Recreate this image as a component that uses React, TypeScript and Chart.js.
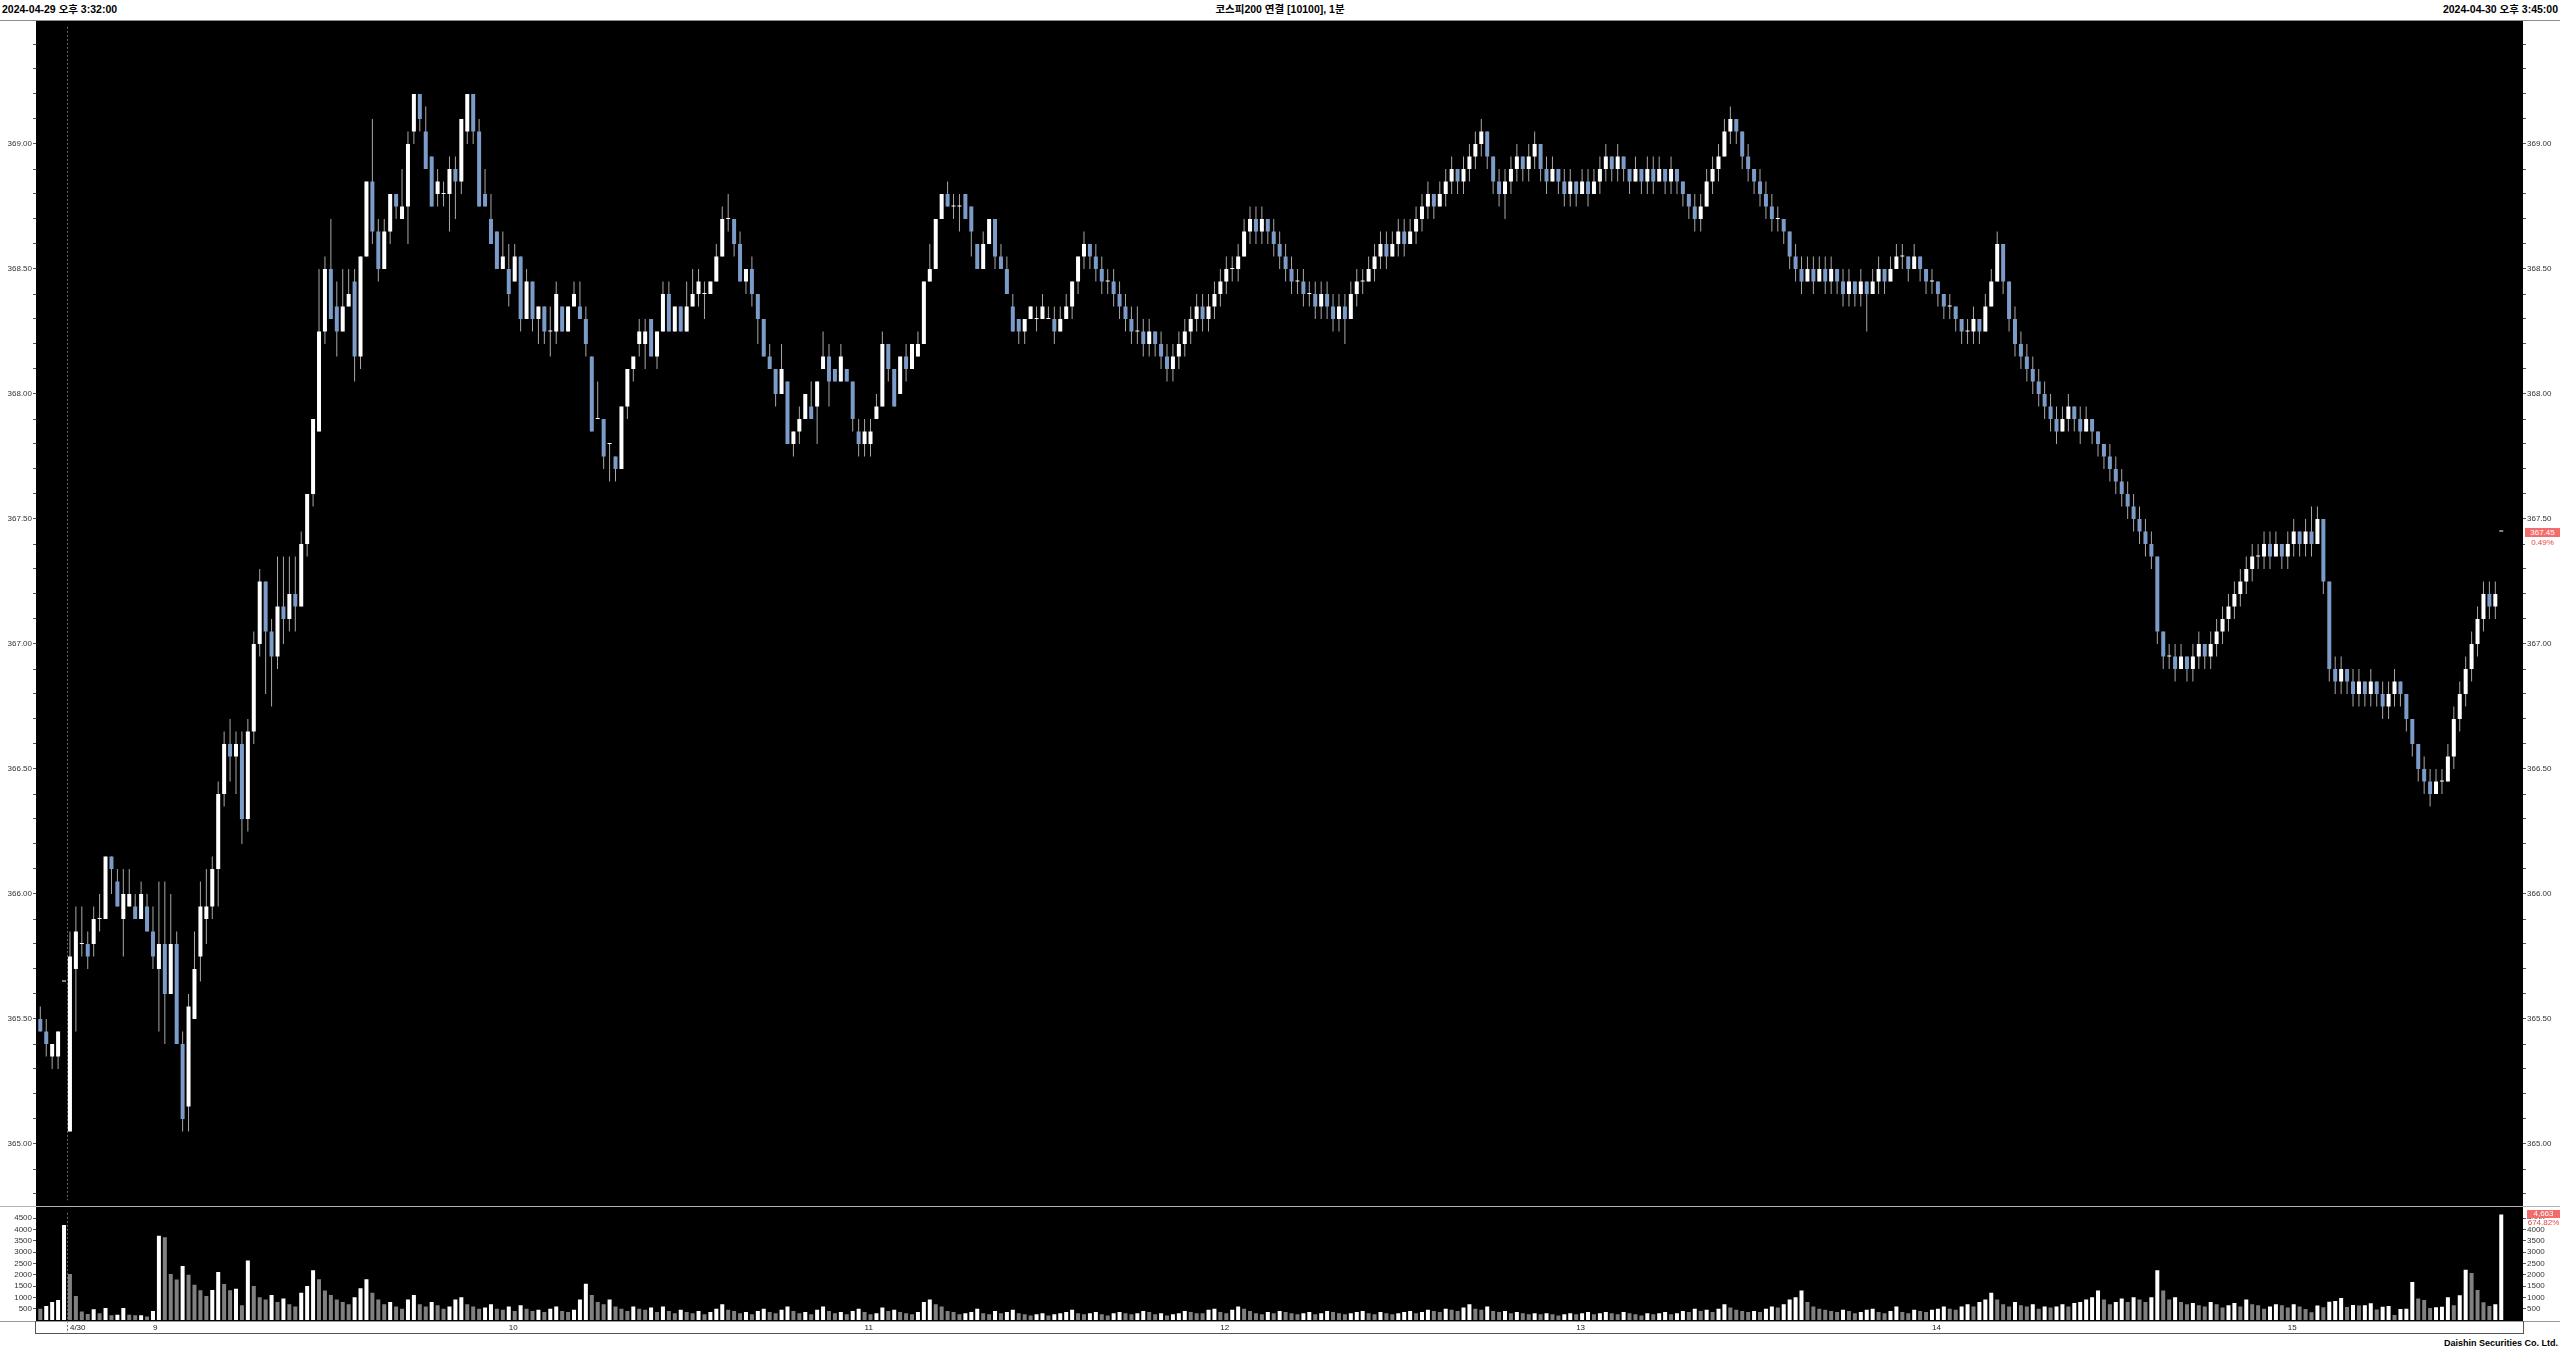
import React, { useEffect, useRef } from 'react';
import { Chart, registerables } from 'chart.js';
Chart.register(...registerables);

// ---------- DATA (1-minute bars, 4/29 15:32 … 4/30 15:45) ----------
const opens: number[] = [
  365.50, 365.45, 365.35, 365.35, 365.65, 365.05, 365.70, 365.80, 365.80, 365.80,
  365.90, 365.90, 366.15, 366.05, 365.90, 365.95, 365.95, 365.90, 365.95, 365.85,
  365.70, 365.80, 365.60, 365.80, 365.40, 365.15, 365.50, 365.75, 365.90, 365.95,
  366.10, 366.40, 366.60, 366.55, 366.60, 366.30, 366.65, 367.00, 367.25, 367.05,
  366.95, 367.15, 367.10, 367.20, 367.15, 367.40, 367.60, 367.85, 368.25, 368.50,
  368.35, 368.25, 368.35, 368.45, 368.15, 368.55, 368.85, 368.65, 368.50, 368.65,
  368.80, 368.70, 368.75, 369.05, 369.20, 369.05, 368.95, 368.80, 368.80, 368.80,
  368.90, 368.85, 369.05, 369.20, 369.05, 368.80, 368.70, 368.65, 368.50, 368.50,
  368.45, 368.55, 368.30, 368.45, 368.30, 368.35, 368.25, 368.25, 368.35, 368.25,
  368.35, 368.35, 368.30, 368.15, 367.90, 367.90, 367.80, 367.75, 367.70, 367.95,
  368.10, 368.20, 368.20, 368.30, 368.15, 368.25, 368.40, 368.25, 368.35, 368.25,
  368.35, 368.40, 368.40, 368.40, 368.45, 368.55, 368.70, 368.70, 368.60, 368.45,
  368.50, 368.40, 368.30, 368.15, 368.10, 368.00, 368.05, 367.80, 367.85, 367.90,
  367.95, 367.95, 368.10, 368.15, 368.10, 368.05, 368.10, 368.05, 367.85, 367.80,
  367.80, 367.90, 367.95, 368.20, 368.10, 368.00, 368.15, 368.10, 368.15, 368.20,
  368.45, 368.50, 368.70, 368.80, 368.75, 368.75, 368.80, 368.75, 368.60, 368.50,
  368.60, 368.70, 368.55, 368.50, 368.35, 368.30, 368.25, 368.30, 368.30, 368.30,
  368.30, 368.30, 368.25, 368.30, 368.35, 368.45, 368.55, 368.60, 368.55, 368.50,
  368.45, 368.45, 368.40, 368.35, 368.30, 368.25, 368.25, 368.20, 368.25, 368.20,
  368.15, 368.10, 368.15, 368.20, 368.25, 368.30, 368.35, 368.30, 368.35, 368.40,
  368.45, 368.50, 368.50, 368.55, 368.65, 368.70, 368.65, 368.70, 368.65, 368.60,
  368.55, 368.50, 368.45, 368.45, 368.40, 368.40, 368.35, 368.40, 368.35, 368.30,
  368.35, 368.30, 368.40, 368.45, 368.45, 368.50, 368.55, 368.60, 368.55, 368.60,
  368.65, 368.60, 368.65, 368.70, 368.75, 368.80, 368.75, 368.80, 368.85, 368.90,
  368.85, 368.90, 368.95, 369.00, 369.05, 368.95, 368.85, 368.80, 368.85, 368.90,
  368.95, 368.90, 368.95, 369.00, 368.90, 368.85, 368.90, 368.85, 368.80, 368.85,
  368.80, 368.85, 368.80, 368.85, 368.90, 368.95, 368.90, 368.95, 368.90, 368.85,
  368.90, 368.85, 368.90, 368.85, 368.90, 368.85, 368.90, 368.85, 368.80, 368.75,
  368.70, 368.75, 368.85, 368.90, 368.95, 369.05, 369.10, 369.05, 368.95, 368.90,
  368.85, 368.80, 368.75, 368.70, 368.70, 368.65, 368.55, 368.50, 368.45, 368.50,
  368.45, 368.50, 368.45, 368.50, 368.45, 368.40, 368.45, 368.40, 368.45, 368.40,
  368.45, 368.50, 368.45, 368.50, 368.55, 368.55, 368.50, 368.55, 368.50, 368.45,
  368.45, 368.40, 368.35, 368.35, 368.30, 368.25, 368.25, 368.30, 368.25, 368.35,
  368.45, 368.60, 368.45, 368.30, 368.20, 368.15, 368.10, 368.05, 368.00, 367.95,
  367.90, 367.85, 367.90, 367.95, 367.90, 367.85, 367.90, 367.85, 367.80, 367.75,
  367.70, 367.65, 367.60, 367.55, 367.50, 367.45, 367.40, 367.35, 367.05, 366.95,
  366.95, 366.90, 366.95, 366.90, 366.95, 367.00, 366.95, 367.00, 367.05, 367.10,
  367.15, 367.20, 367.25, 367.30, 367.35, 367.35, 367.40, 367.35, 367.40, 367.35,
  367.40, 367.45, 367.40, 367.45, 367.40, 367.50, 367.25, 366.90, 366.85, 366.90,
  366.85, 366.80, 366.85, 366.80, 366.85, 366.80, 366.75, 366.80, 366.85, 366.80,
  366.70, 366.60, 366.50, 366.45, 366.40, 366.45, 366.45, 366.55, 366.70, 366.80,
  366.90, 367.00, 367.10, 367.20, 367.15, 367.45,
];
const highs: number[] = [
  365.55, 365.50, 365.40, 365.45, 365.65, 365.85, 365.95, 365.95, 365.85, 365.95,
  366.00, 366.15, 366.15, 366.10, 366.10, 366.10, 366.00, 366.05, 366.00, 365.95,
  366.05, 366.05, 366.00, 365.85, 365.45, 365.60, 365.85, 366.05, 366.10, 366.15,
  366.45, 366.65, 366.70, 366.65, 366.65, 366.70, 367.05, 367.30, 367.25, 367.10,
  367.35, 367.35, 367.35, 367.35, 367.45, 367.60, 367.90, 368.50, 368.55, 368.70,
  368.45, 368.50, 368.50, 368.50, 368.55, 368.85, 369.10, 368.70, 368.70, 368.80,
  368.80, 368.90, 369.05, 369.20, 369.20, 369.15, 368.95, 368.90, 368.85, 368.95,
  368.95, 369.10, 369.20, 369.20, 369.10, 368.90, 368.80, 368.65, 368.65, 368.60,
  368.60, 368.55, 368.50, 368.45, 368.35, 368.35, 368.35, 368.45, 368.35, 368.35,
  368.45, 368.45, 368.35, 368.15, 368.05, 367.90, 367.80, 367.75, 367.95, 368.10,
  368.15, 368.30, 368.30, 368.30, 368.25, 368.45, 368.45, 368.35, 368.35, 368.45,
  368.50, 368.50, 368.45, 368.45, 368.60, 368.75, 368.80, 368.70, 368.65, 368.50,
  368.55, 368.40, 368.30, 368.20, 368.10, 368.20, 368.05, 367.85, 367.95, 368.00,
  368.05, 368.05, 368.25, 368.20, 368.10, 368.20, 368.10, 368.05, 367.90, 367.90,
  367.90, 368.00, 368.25, 368.20, 368.10, 368.15, 368.20, 368.20, 368.25, 368.45,
  368.60, 368.70, 368.80, 368.85, 368.80, 368.80, 368.80, 368.75, 368.60, 368.65,
  368.70, 368.70, 368.60, 368.55, 368.40, 368.30, 368.30, 368.35, 368.35, 368.40,
  368.35, 368.35, 368.35, 368.40, 368.45, 368.55, 368.65, 368.60, 368.60, 368.55,
  368.50, 368.50, 368.45, 368.40, 368.35, 368.35, 368.30, 368.30, 368.25, 368.25,
  368.20, 368.20, 368.25, 368.30, 368.35, 368.40, 368.40, 368.40, 368.45, 368.50,
  368.55, 368.55, 368.60, 368.70, 368.75, 368.75, 368.75, 368.70, 368.70, 368.65,
  368.60, 368.55, 368.50, 368.50, 368.45, 368.45, 368.45, 368.45, 368.40, 368.40,
  368.40, 368.45, 368.50, 368.50, 368.55, 368.60, 368.65, 368.65, 368.65, 368.70,
  368.70, 368.70, 368.75, 368.80, 368.85, 368.80, 368.85, 368.90, 368.95, 368.90,
  368.95, 369.00, 369.05, 369.10, 369.05, 368.95, 368.90, 368.90, 368.95, 369.00,
  368.95, 369.00, 369.05, 369.00, 368.95, 368.95, 368.90, 368.90, 368.90, 368.85,
  368.90, 368.90, 368.90, 368.95, 369.00, 368.95, 369.00, 368.95, 368.90, 368.95,
  368.90, 368.95, 368.95, 368.95, 368.90, 368.95, 368.90, 368.85, 368.80, 368.80,
  368.80, 368.90, 368.95, 369.00, 369.10, 369.15, 369.10, 369.05, 369.00, 368.90,
  368.90, 368.85, 368.80, 368.75, 368.70, 368.65, 368.60, 368.55, 368.55, 368.55,
  368.55, 368.55, 368.55, 368.50, 368.50, 368.50, 368.45, 368.50, 368.45, 368.50,
  368.55, 368.50, 368.55, 368.60, 368.60, 368.55, 368.60, 368.55, 368.50, 368.50,
  368.45, 368.40, 368.40, 368.35, 368.30, 368.30, 368.35, 368.30, 368.40, 368.50,
  368.65, 368.60, 368.45, 368.35, 368.25, 368.20, 368.15, 368.10, 368.05, 368.00,
  367.95, 367.95, 368.00, 367.95, 367.95, 367.95, 367.90, 367.85, 367.80, 367.80,
  367.75, 367.70, 367.65, 367.60, 367.55, 367.50, 367.45, 367.35, 367.05, 367.00,
  367.00, 367.00, 366.95, 367.00, 367.05, 367.00, 367.05, 367.10, 367.15, 367.20,
  367.25, 367.30, 367.35, 367.40, 367.40, 367.45, 367.45, 367.45, 367.40, 367.45,
  367.50, 367.45, 367.50, 367.55, 367.55, 367.50, 367.25, 366.95, 366.95, 366.90,
  366.90, 366.90, 366.85, 366.90, 366.85, 366.85, 366.85, 366.90, 366.85, 366.80,
  366.70, 366.60, 366.55, 366.50, 366.50, 366.50, 366.60, 366.75, 366.85, 366.95,
  367.05, 367.15, 367.25, 367.25, 367.25, 367.45,
];
const lows: number[] = [
  365.45, 365.35, 365.30, 365.30, 365.65, 365.05, 365.45, 365.75, 365.70, 365.75,
  365.85, 365.90, 366.00, 365.95, 365.75, 365.95, 365.90, 365.90, 365.85, 365.70,
  365.45, 365.40, 365.60, 365.40, 365.05, 365.05, 365.50, 365.65, 365.80, 365.90,
  365.95, 366.35, 366.45, 366.40, 366.20, 366.25, 366.60, 366.95, 366.80, 366.75,
  366.90, 367.00, 367.05, 367.05, 367.15, 367.35, 367.55, 367.85, 368.20, 368.30,
  368.15, 368.25, 368.35, 368.05, 368.10, 368.55, 368.60, 368.45, 368.50, 368.60,
  368.70, 368.70, 368.60, 369.00, 369.05, 368.90, 368.75, 368.75, 368.75, 368.65,
  368.70, 368.80, 369.00, 369.00, 368.75, 368.75, 368.60, 368.50, 368.50, 368.35,
  368.45, 368.25, 368.30, 368.25, 368.20, 368.20, 368.15, 368.20, 368.25, 368.25,
  368.35, 368.30, 368.15, 367.85, 367.90, 367.70, 367.65, 367.65, 367.70, 367.90,
  368.05, 368.15, 368.10, 368.15, 368.10, 368.25, 368.25, 368.25, 368.25, 368.25,
  368.35, 368.35, 368.30, 368.40, 368.45, 368.55, 368.65, 368.55, 368.45, 368.40,
  368.35, 368.20, 368.15, 368.10, 367.95, 368.00, 367.80, 367.75, 367.80, 367.90,
  367.90, 367.80, 368.10, 367.95, 368.05, 368.05, 368.05, 367.85, 367.75, 367.75,
  367.75, 367.90, 367.95, 368.05, 367.95, 368.00, 368.05, 368.10, 368.15, 368.20,
  368.45, 368.50, 368.70, 368.75, 368.70, 368.65, 368.70, 368.55, 368.50, 368.50,
  368.60, 368.50, 368.50, 368.40, 368.25, 368.20, 368.20, 368.30, 368.25, 368.30,
  368.30, 368.20, 368.25, 368.30, 368.30, 368.40, 368.50, 368.50, 368.45, 368.40,
  368.40, 368.35, 368.30, 368.25, 368.20, 368.20, 368.15, 368.15, 368.15, 368.10,
  368.05, 368.05, 368.10, 368.15, 368.20, 368.25, 368.25, 368.25, 368.30, 368.35,
  368.40, 368.45, 368.45, 368.55, 368.60, 368.60, 368.60, 368.60, 368.55, 368.50,
  368.45, 368.40, 368.40, 368.35, 368.35, 368.30, 368.30, 368.30, 368.25, 368.25,
  368.20, 368.30, 368.35, 368.40, 368.45, 368.45, 368.50, 368.50, 368.55, 368.55,
  368.55, 368.60, 368.60, 368.65, 368.70, 368.70, 368.75, 368.75, 368.80, 368.80,
  368.80, 368.85, 368.90, 368.95, 368.90, 368.80, 368.75, 368.70, 368.80, 368.85,
  368.85, 368.85, 368.90, 368.85, 368.80, 368.85, 368.80, 368.75, 368.75, 368.75,
  368.80, 368.75, 368.80, 368.80, 368.85, 368.85, 368.85, 368.85, 368.80, 368.85,
  368.80, 368.80, 368.80, 368.85, 368.80, 368.80, 368.80, 368.75, 368.70, 368.65,
  368.65, 368.75, 368.80, 368.85, 368.95, 369.00, 369.00, 368.90, 368.85, 368.80,
  368.75, 368.70, 368.65, 368.65, 368.60, 368.50, 368.45, 368.40, 368.45, 368.40,
  368.45, 368.40, 368.40, 368.40, 368.35, 368.35, 368.35, 368.35, 368.25, 368.40,
  368.40, 368.40, 368.45, 368.50, 368.50, 368.45, 368.50, 368.45, 368.40, 368.40,
  368.35, 368.30, 368.30, 368.25, 368.20, 368.20, 368.20, 368.20, 368.25, 368.35,
  368.45, 368.40, 368.25, 368.15, 368.10, 368.05, 368.00, 367.95, 367.90, 367.85,
  367.80, 367.85, 367.85, 367.85, 367.80, 367.85, 367.80, 367.75, 367.70, 367.65,
  367.60, 367.55, 367.50, 367.45, 367.40, 367.35, 367.30, 367.00, 366.90, 366.90,
  366.85, 366.90, 366.85, 366.85, 366.90, 366.90, 366.90, 366.95, 367.00, 367.05,
  367.10, 367.15, 367.20, 367.25, 367.30, 367.30, 367.30, 367.35, 367.30, 367.30,
  367.35, 367.35, 367.35, 367.35, 367.40, 367.20, 366.85, 366.80, 366.80, 366.80,
  366.75, 366.75, 366.75, 366.75, 366.75, 366.70, 366.70, 366.75, 366.75, 366.65,
  366.55, 366.45, 366.40, 366.35, 366.40, 366.40, 366.45, 366.50, 366.65, 366.75,
  366.85, 366.95, 367.05, 367.10, 367.10, 367.45,
];
const closes: number[] = [
  365.45, 365.40, 365.40, 365.45, 365.65, 365.75, 365.85, 365.80, 365.75, 365.90,
  365.90, 366.15, 366.10, 365.95, 366.00, 366.00, 365.90, 366.00, 365.85, 365.75,
  365.80, 365.60, 365.80, 365.40, 365.10, 365.55, 365.70, 365.95, 365.95, 366.10,
  366.40, 366.60, 366.55, 366.60, 366.30, 366.65, 367.00, 367.25, 367.05, 366.95,
  367.15, 367.10, 367.20, 367.15, 367.40, 367.60, 367.90, 368.25, 368.50, 368.30,
  368.25, 368.35, 368.40, 368.15, 368.55, 368.85, 368.65, 368.50, 368.65, 368.80,
  368.75, 368.75, 369.00, 369.20, 369.10, 368.90, 368.75, 368.85, 368.80, 368.90,
  368.85, 369.10, 369.20, 369.05, 368.75, 368.75, 368.60, 368.50, 368.55, 368.40,
  368.55, 368.30, 368.45, 368.30, 368.35, 368.25, 368.25, 368.40, 368.25, 368.35,
  368.40, 368.30, 368.20, 367.85, 367.90, 367.75, 367.80, 367.70, 367.95, 368.10,
  368.15, 368.25, 368.25, 368.15, 368.25, 368.40, 368.25, 368.35, 368.25, 368.35,
  368.40, 368.45, 368.40, 368.45, 368.55, 368.70, 368.70, 368.60, 368.45, 368.50,
  368.40, 368.30, 368.15, 368.10, 368.00, 368.10, 367.80, 367.85, 367.90, 368.00,
  367.90, 368.05, 368.15, 368.05, 368.05, 368.15, 368.05, 367.90, 367.80, 367.85,
  367.85, 367.95, 368.20, 368.10, 367.95, 368.15, 368.10, 368.20, 368.20, 368.45,
  368.50, 368.70, 368.80, 368.75, 368.75, 368.75, 368.70, 368.65, 368.50, 368.60,
  368.70, 368.55, 368.50, 368.40, 368.25, 368.25, 368.30, 368.35, 368.30, 368.35,
  368.30, 368.25, 368.30, 368.35, 368.45, 368.55, 368.60, 368.55, 368.50, 368.45,
  368.45, 368.40, 368.35, 368.30, 368.25, 368.25, 368.20, 368.25, 368.20, 368.15,
  368.10, 368.15, 368.20, 368.25, 368.30, 368.35, 368.30, 368.35, 368.40, 368.45,
  368.50, 368.50, 368.55, 368.65, 368.70, 368.65, 368.70, 368.65, 368.60, 368.55,
  368.50, 368.45, 368.45, 368.40, 368.40, 368.35, 368.40, 368.35, 368.30, 368.35,
  368.30, 368.40, 368.45, 368.45, 368.50, 368.55, 368.60, 368.55, 368.60, 368.65,
  368.60, 368.65, 368.70, 368.75, 368.80, 368.75, 368.80, 368.85, 368.90, 368.85,
  368.90, 368.95, 369.00, 369.05, 368.95, 368.85, 368.80, 368.85, 368.90, 368.95,
  368.90, 368.95, 369.00, 368.90, 368.85, 368.90, 368.85, 368.80, 368.85, 368.80,
  368.85, 368.80, 368.85, 368.90, 368.95, 368.90, 368.95, 368.90, 368.85, 368.90,
  368.85, 368.90, 368.85, 368.90, 368.85, 368.90, 368.85, 368.80, 368.75, 368.70,
  368.75, 368.85, 368.90, 368.95, 369.05, 369.10, 369.05, 368.95, 368.90, 368.85,
  368.80, 368.75, 368.70, 368.70, 368.65, 368.55, 368.50, 368.45, 368.50, 368.45,
  368.50, 368.45, 368.50, 368.45, 368.40, 368.45, 368.40, 368.45, 368.40, 368.45,
  368.50, 368.45, 368.50, 368.55, 368.55, 368.50, 368.55, 368.50, 368.45, 368.45,
  368.40, 368.35, 368.35, 368.30, 368.25, 368.25, 368.30, 368.25, 368.35, 368.45,
  368.60, 368.45, 368.30, 368.20, 368.15, 368.10, 368.05, 368.00, 367.95, 367.90,
  367.85, 367.90, 367.95, 367.90, 367.85, 367.90, 367.85, 367.80, 367.75, 367.70,
  367.65, 367.60, 367.55, 367.50, 367.45, 367.40, 367.35, 367.05, 366.95, 366.95,
  366.90, 366.95, 366.90, 366.95, 367.00, 366.95, 367.00, 367.05, 367.10, 367.15,
  367.20, 367.25, 367.30, 367.35, 367.35, 367.40, 367.35, 367.40, 367.35, 367.40,
  367.45, 367.40, 367.45, 367.40, 367.50, 367.25, 366.90, 366.85, 366.90, 366.85,
  366.80, 366.85, 366.80, 366.85, 366.80, 366.75, 366.80, 366.85, 366.80, 366.70,
  366.60, 366.50, 366.45, 366.40, 366.45, 366.45, 366.55, 366.70, 366.80, 366.90,
  367.00, 367.10, 367.20, 367.15, 367.20, 367.45,
];

const volumes: number[] = [
  500, 620, 800, 880, 4190, 2030, 1060, 380, 265, 470,
  295, 530, 205, 235, 530, 235, 205, 210, 150, 400,
  3720, 3650, 2030, 1790, 2380, 2000, 1560, 1310, 1060, 1320,
  2120, 1590, 1310, 1380, 650, 2630,
  1500, 1000, 900, 1100, 800, 950, 700, 600, 1200, 1500,
  2200, 1800, 1300, 1100, 900, 800, 700, 1000, 1400, 1800,
  1200, 900, 700, 800, 600, 500, 900, 1100, 700, 600,
  800, 650, 500, 600, 900, 1000, 700, 600, 500, 550,
  700, 500, 450, 600, 400, 650, 500, 400, 450, 350,
  500, 600, 400, 350, 450, 900, 1600, 1100, 800, 700,
  900, 600, 500, 400, 600, 500, 450, 550, 350, 600,
  400, 300, 450, 350, 300, 400, 250, 350, 500, 700,
  450, 400, 300, 350, 250, 400, 500, 350, 300, 450,
  600, 400, 300, 350, 250, 450, 600, 400, 300, 350,
  250, 400, 500, 350, 250, 300, 550, 400, 450, 350,
  300, 250, 350, 800, 900, 700, 600, 400, 350, 250,
  300, 350, 500, 300, 250, 400, 300, 350, 450, 300,
  250, 200, 250, 300, 200, 250, 300, 350, 450, 300,
  250, 300, 350, 250, 200, 300, 350, 300, 250, 300,
  400, 350, 250, 300, 200, 250, 300, 400, 350, 300,
  300, 450, 500, 350, 300, 450, 600, 500, 400, 300, 250,
  350, 300, 400, 350, 300, 250, 300, 350, 250, 300,
  400, 350, 300, 250, 300, 350, 400, 300, 250, 350,
  300, 250, 300, 350, 400, 300, 350, 450, 400, 350,
  500, 450, 400, 550, 700, 500, 450, 600, 400, 350,
  400, 300, 350, 300, 250, 300, 250, 300, 250, 200,
  250, 300, 250, 300, 350, 250, 300, 350, 300, 250,
  350, 300, 250, 200, 300, 250, 300, 350, 250, 300, 400,
  350, 500, 400, 450, 350, 500, 700, 550, 450, 400,
  350, 400, 350, 500, 600, 550, 700, 900, 1000, 1300,
  800, 600, 500, 450, 400, 350, 450, 400, 300, 350,
  450, 500, 350, 300, 400, 600, 350, 300, 450, 400, 350,
  450, 500, 600, 500, 450, 600, 700, 600, 800, 900,
  1200, 900, 700, 600, 800, 650, 600, 700, 500, 600,
  550, 600, 700, 600, 750, 800, 900, 1000, 1300, 900,
  700, 800, 950, 800, 1000, 900, 800, 1000, 2200, 1300,
  900, 1000, 800, 700, 750, 650, 600, 800, 700, 550,
  650, 750, 600, 900, 700, 650, 500, 600, 700, 650,
  550, 700, 600,
  490, 340, 635, 560, 810, 840, 975, 575, 665, 635,
  650, 740, 460, 590, 620, 220, 490, 500, 1680, 945,
  885, 530, 560, 590, 1000, 650, 1090, 2215, 2080, 1330,
  780, 620, 691, 4663,
];

const xTickIndex = [5, 19, 79, 139, 199, 259, 319, 379];
const xTickLabels = ['4/30', '9', '10', '11', '12', '13', '14', '15'];
const volumeTicks = [500, 1000, 1500, 2000, 2500, 3000, 3500, 4000, 4500];
const dayBreakIndex = 5;

const titleLeft = '2024-04-29 오후 3:32:00';
const titleCenter = '코스피200 연결 [10100], 1분';
const titleRight = '2024-04-30 오후 3:45:00';
const lastPriceText = '367.45';
const lastPriceChange = '0.49%';
const lastPriceValue = 367.45;
const lastVolumeText = '4,663';
const lastVolumeChange = '674.82%';
const footerText = 'Daishin Securities Co. Ltd.';

// ---------- GEOMETRY ----------
const W = 2560;
const PLOT_L = 36;
const PLOT_R = 2523;
const PRICE_TOP = 21;
const PRICE_BOT = 1206;
const VOL_TOP = 1207;
const VOL_CANVAS_H = 127;
const VOL_BOT = 1321;
const BAR0_X = 40.3;
const PITCH = 5.93;
const REF_PRICE = 369;
const REF_PRICE_Y = 144;
const PX_PER_POINT = 250;
const VOL_ZERO_Y = 1320;
const PX_PER_1000 = 22.65;

const UP = '#ffffff';
const DOWN = '#7b9bc8';
const WICK = '#a8a8a8';
const FONT = "'Liberation Sans', 'Noto Sans CJK KR', Arial, sans-serif";

const priceTicks: number[] = [];
for (let k = 3648; k <= 3694; k++) priceTicks.push(k / 10);

const axisFont = { family: FONT, size: 8 };

const X_MIN = (PLOT_L - BAR0_X) / PITCH;
const X_MAX = (PLOT_R - BAR0_X) / PITCH;

function fixX(chart: any) {
  const ca = chart.chartArea;
  chart.options.scales.x.min = (ca.left - BAR0_X) / PITCH;
  chart.options.scales.x.max = (ca.right - BAR0_X) / PITCH;
}

const dayLinePlugin = (extra: number) => ({
  id: 'dayLine' + extra,
  beforeDatasetsDraw(chart: any) {
    const x = Math.round(chart.scales.x.getPixelForValue(dayBreakIndex - 0.5)) + 0.5;
    const ctx = chart.ctx;
    ctx.save();
    ctx.strokeStyle = '#6a6a6a';
    ctx.lineWidth = 1;
    ctx.setLineDash([2, 2]);
    ctx.beginPath();
    ctx.moveTo(x, chart.chartArea.top);
    ctx.lineTo(x, chart.chartArea.bottom + extra);
    ctx.stroke();
    ctx.restore();
  },
});

export default function App() {
  const priceRef = useRef<HTMLCanvasElement>(null);
  const volRef = useRef<HTMLCanvasElement>(null);

  useEffect(() => {
    const n = closes.length;
    const idx = Array.from({ length: n }, (_, i) => i);
    const bodies = idx.map((i) => ({ x: i, y: [opens[i], closes[i]] }));
    const wicks = idx.map((i) => ({ x: i, y: [lows[i], highs[i]] }));
    const bodyColors = idx.map((i) => (closes[i] >= opens[i] ? UP : DOWN));

    const yAxis = (pos: 'left' | 'right') => ({
      type: 'linear' as const,
      position: pos,
      min: 364.75,
      max: 369.49,
      afterBuildTicks: (s: any) => {
        s.ticks = priceTicks.map((v) => ({ value: v }));
      },
      afterFit: (s: any) => {
        s.width = pos === 'left' ? PLOT_L : W - PLOT_R;
      },
      ticks: {
        autoSkip: false,
        padding: 1,
        color: '#333',
        font: axisFont,
        callback: (v: any) => (Math.round(v * 10) % 5 === 0 ? Number(v).toFixed(2) : ''),
      },
      grid: { drawOnChartArea: false, drawTicks: true, tickLength: 3, color: '#555' },
      border: { display: false },
    });

    const xBase = { type: 'linear', offset: false, min: X_MIN, max: X_MAX, grid: { offset: false, display: false, drawTicks: false } };

    const price = new Chart(priceRef.current!, {
      type: 'bar',
      data: {
        datasets: [
          {
            data: wicks as any,
            backgroundColor: WICK,
            grouped: false,
            maxBarThickness: 1,
            order: 2,
            yAxisID: 'y',
          } as any,
          {
            data: bodies as any,
            backgroundColor: bodyColors,
            grouped: false,
            maxBarThickness: 4,
            minBarLength: 1,
            order: 1,
            yAxisID: 'y',
          } as any,
        ],
      },
      options: {
        animation: false,
        responsive: false,
        devicePixelRatio: 1,
        layout: { padding: 0 },
        plugins: { legend: { display: false }, tooltip: { enabled: false } },
        events: [],
        scales: {
          x: { ...xBase, display: false } as any,
          y: yAxis('left') as any,
          y2: yAxis('right') as any,
        },
      },
      plugins: [dayLinePlugin(0)],
    });
    {
      const ca = price.chartArea;
      const topY = PRICE_TOP + ca.top;
      const botY = PRICE_TOP + ca.bottom;
      const max = REF_PRICE + (REF_PRICE_Y - topY) / PX_PER_POINT;
      const min = REF_PRICE - (botY - REF_PRICE_Y) / PX_PER_POINT;
      const sc: any = price.options.scales;
      sc.y.min = min; sc.y.max = max; sc.y2.min = min; sc.y2.max = max;
      fixX(price);
      price.update();
    }

    const volColors = volumes.map((v, i) => (i > 0 && v > volumes[i - 1] ? '#ffffff' : '#808080'));
    const vAxis = (pos: 'left' | 'right') => ({
      type: 'linear' as const,
      position: pos,
      min: 0,
      max: 5000,
      afterBuildTicks: (s: any) => {
        s.ticks = volumeTicks.map((v) => ({ value: v }));
      },
      afterFit: (s: any) => {
        s.width = pos === 'left' ? PLOT_L : W - PLOT_R;
      },
      ticks: { autoSkip: false, padding: 1, color: '#333', font: axisFont, callback: (v: any) => String(v) },
      grid: { drawOnChartArea: false, drawTicks: true, tickLength: 3, color: '#555' },
      border: { display: false },
    });
    const vol = new Chart(volRef.current!, {
      type: 'bar',
      data: {
        datasets: [
          {
            data: volumes.map((v, i) => ({ x: i, y: v })) as any,
            backgroundColor: volColors,
            grouped: false,
            maxBarThickness: 4,
            yAxisID: 'v',
          } as any,
        ],
      },
      options: {
        animation: false,
        responsive: false,
        devicePixelRatio: 1,
        layout: { padding: 0 },
        plugins: { legend: { display: false }, tooltip: { enabled: false } },
        events: [],
        scales: {
          x: {
            ...xBase,
            afterBuildTicks: (s: any) => {
              s.ticks = xTickIndex.map((v) => ({ value: v }));
            },
            afterFit: (s: any) => {
              s.height = 13;
            },
            ticks: {
              autoSkip: false,
              maxRotation: 0,
              align: 'start',
              padding: 2,
              color: '#222',
              font: axisFont,
              callback: (v: any) => {
                const k = xTickIndex.indexOf(Math.round(v));
                return k >= 0 ? xTickLabels[k] : '';
              },
            },
            border: { display: false },
          } as any,
          v: vAxis('left') as any,
          v2: vAxis('right') as any,
        },
      },
      plugins: [dayLinePlugin(12)],
    });
    {
      const ca = vol.chartArea;
      const topY = VOL_TOP + ca.top;
      const botY = VOL_TOP + ca.bottom;
      const max = ((VOL_ZERO_Y - topY) / PX_PER_1000) * 1000;
      const min = -((botY - VOL_ZERO_Y) / PX_PER_1000) * 1000;
      const sc: any = vol.options.scales;
      sc.v.min = min; sc.v.max = max; sc.v2.min = min; sc.v2.max = max;
      fixX(vol);
      vol.update();
    }

    return () => {
      price.destroy();
      vol.destroy();
    };
  }, []);

  const abs = (s: React.CSSProperties): React.CSSProperties => ({ position: 'absolute', ...s });
  const lastPriceY = REF_PRICE_Y + (REF_PRICE - lastPriceValue) * PX_PER_POINT;

  return (
    <div style={abs({ left: 0, top: 0, width: W, height: 1350, background: '#ffffff', overflow: 'hidden', fontFamily: FONT })}>
      <div style={abs({ left: 2, top: 3, fontSize: 10.5, fontWeight: 'bold', color: '#000', lineHeight: '12px', whiteSpace: 'nowrap' })}>{titleLeft}</div>
      <div style={abs({ left: 0, width: W, top: 3, textAlign: 'center', fontSize: 10.5, fontWeight: 'bold', color: '#000', lineHeight: '12px', whiteSpace: 'nowrap' })}>{titleCenter}</div>
      <div style={abs({ right: 2, top: 3, fontSize: 10.5, fontWeight: 'bold', color: '#000', lineHeight: '12px', whiteSpace: 'nowrap' })}>{titleRight}</div>
      <div style={abs({ left: 0, top: 20, width: W, height: 1, background: '#8c8c8c' })} />

      <div style={abs({ left: PLOT_L, top: PRICE_TOP, width: PLOT_R - PLOT_L, height: PRICE_BOT - PRICE_TOP, background: '#000' })} />
      <div style={abs({ left: PLOT_L, top: VOL_TOP, width: PLOT_R - PLOT_L, height: VOL_BOT - VOL_TOP, background: '#000' })} />

      <canvas ref={priceRef} width={W} height={PRICE_BOT - PRICE_TOP} style={abs({ left: 0, top: PRICE_TOP, width: W, height: PRICE_BOT - PRICE_TOP })} />
      <canvas ref={volRef} width={W} height={VOL_CANVAS_H} style={abs({ left: 0, top: VOL_TOP, width: W, height: VOL_CANVAS_H })} />

      <div style={abs({ left: 0, top: PRICE_BOT, width: W, height: 1, background: '#b4b4b4' })} />
      <div style={abs({ left: 0, top: VOL_BOT, width: W, height: 1, background: '#9a9a9a' })} />
      <div style={abs({ left: PLOT_L - 1, top: VOL_BOT, width: PLOT_R - PLOT_L, height: 12, borderLeft: '1px solid #555', borderRight: '1px solid #555', borderBottom: '1px solid #555' })} />

      <div style={abs({ left: 2525, top: Math.round(lastPriceY) - 4, width: 35, height: 9, background: '#f26c6c', color: '#fff', fontSize: 8, lineHeight: '9px', textAlign: 'center' })}>{lastPriceText}</div>
      <div style={abs({ left: 2525, top: Math.round(lastPriceY) + 6, width: 35, height: 9, background: '#fff', color: '#e64646', fontSize: 8, lineHeight: '9px', textAlign: 'center' })}>{lastPriceChange}</div>
      <div style={abs({ left: 2527, top: 1210, width: 33, height: 8, background: '#f26c6c', color: '#fff', fontSize: 8, lineHeight: '8px', textAlign: 'center' })}>{lastVolumeText}</div>
      <div style={abs({ left: 2527, top: 1219, width: 33, height: 8, background: '#fff', color: '#e64646', fontSize: 8, lineHeight: '8px', textAlign: 'center' })}>{lastVolumeChange}</div>

      <div style={abs({ right: 2, top: 1337, fontSize: 9, fontWeight: 'bold', color: '#000', lineHeight: '12px', whiteSpace: 'nowrap' })}>{footerText}</div>
    </div>
  );
}
